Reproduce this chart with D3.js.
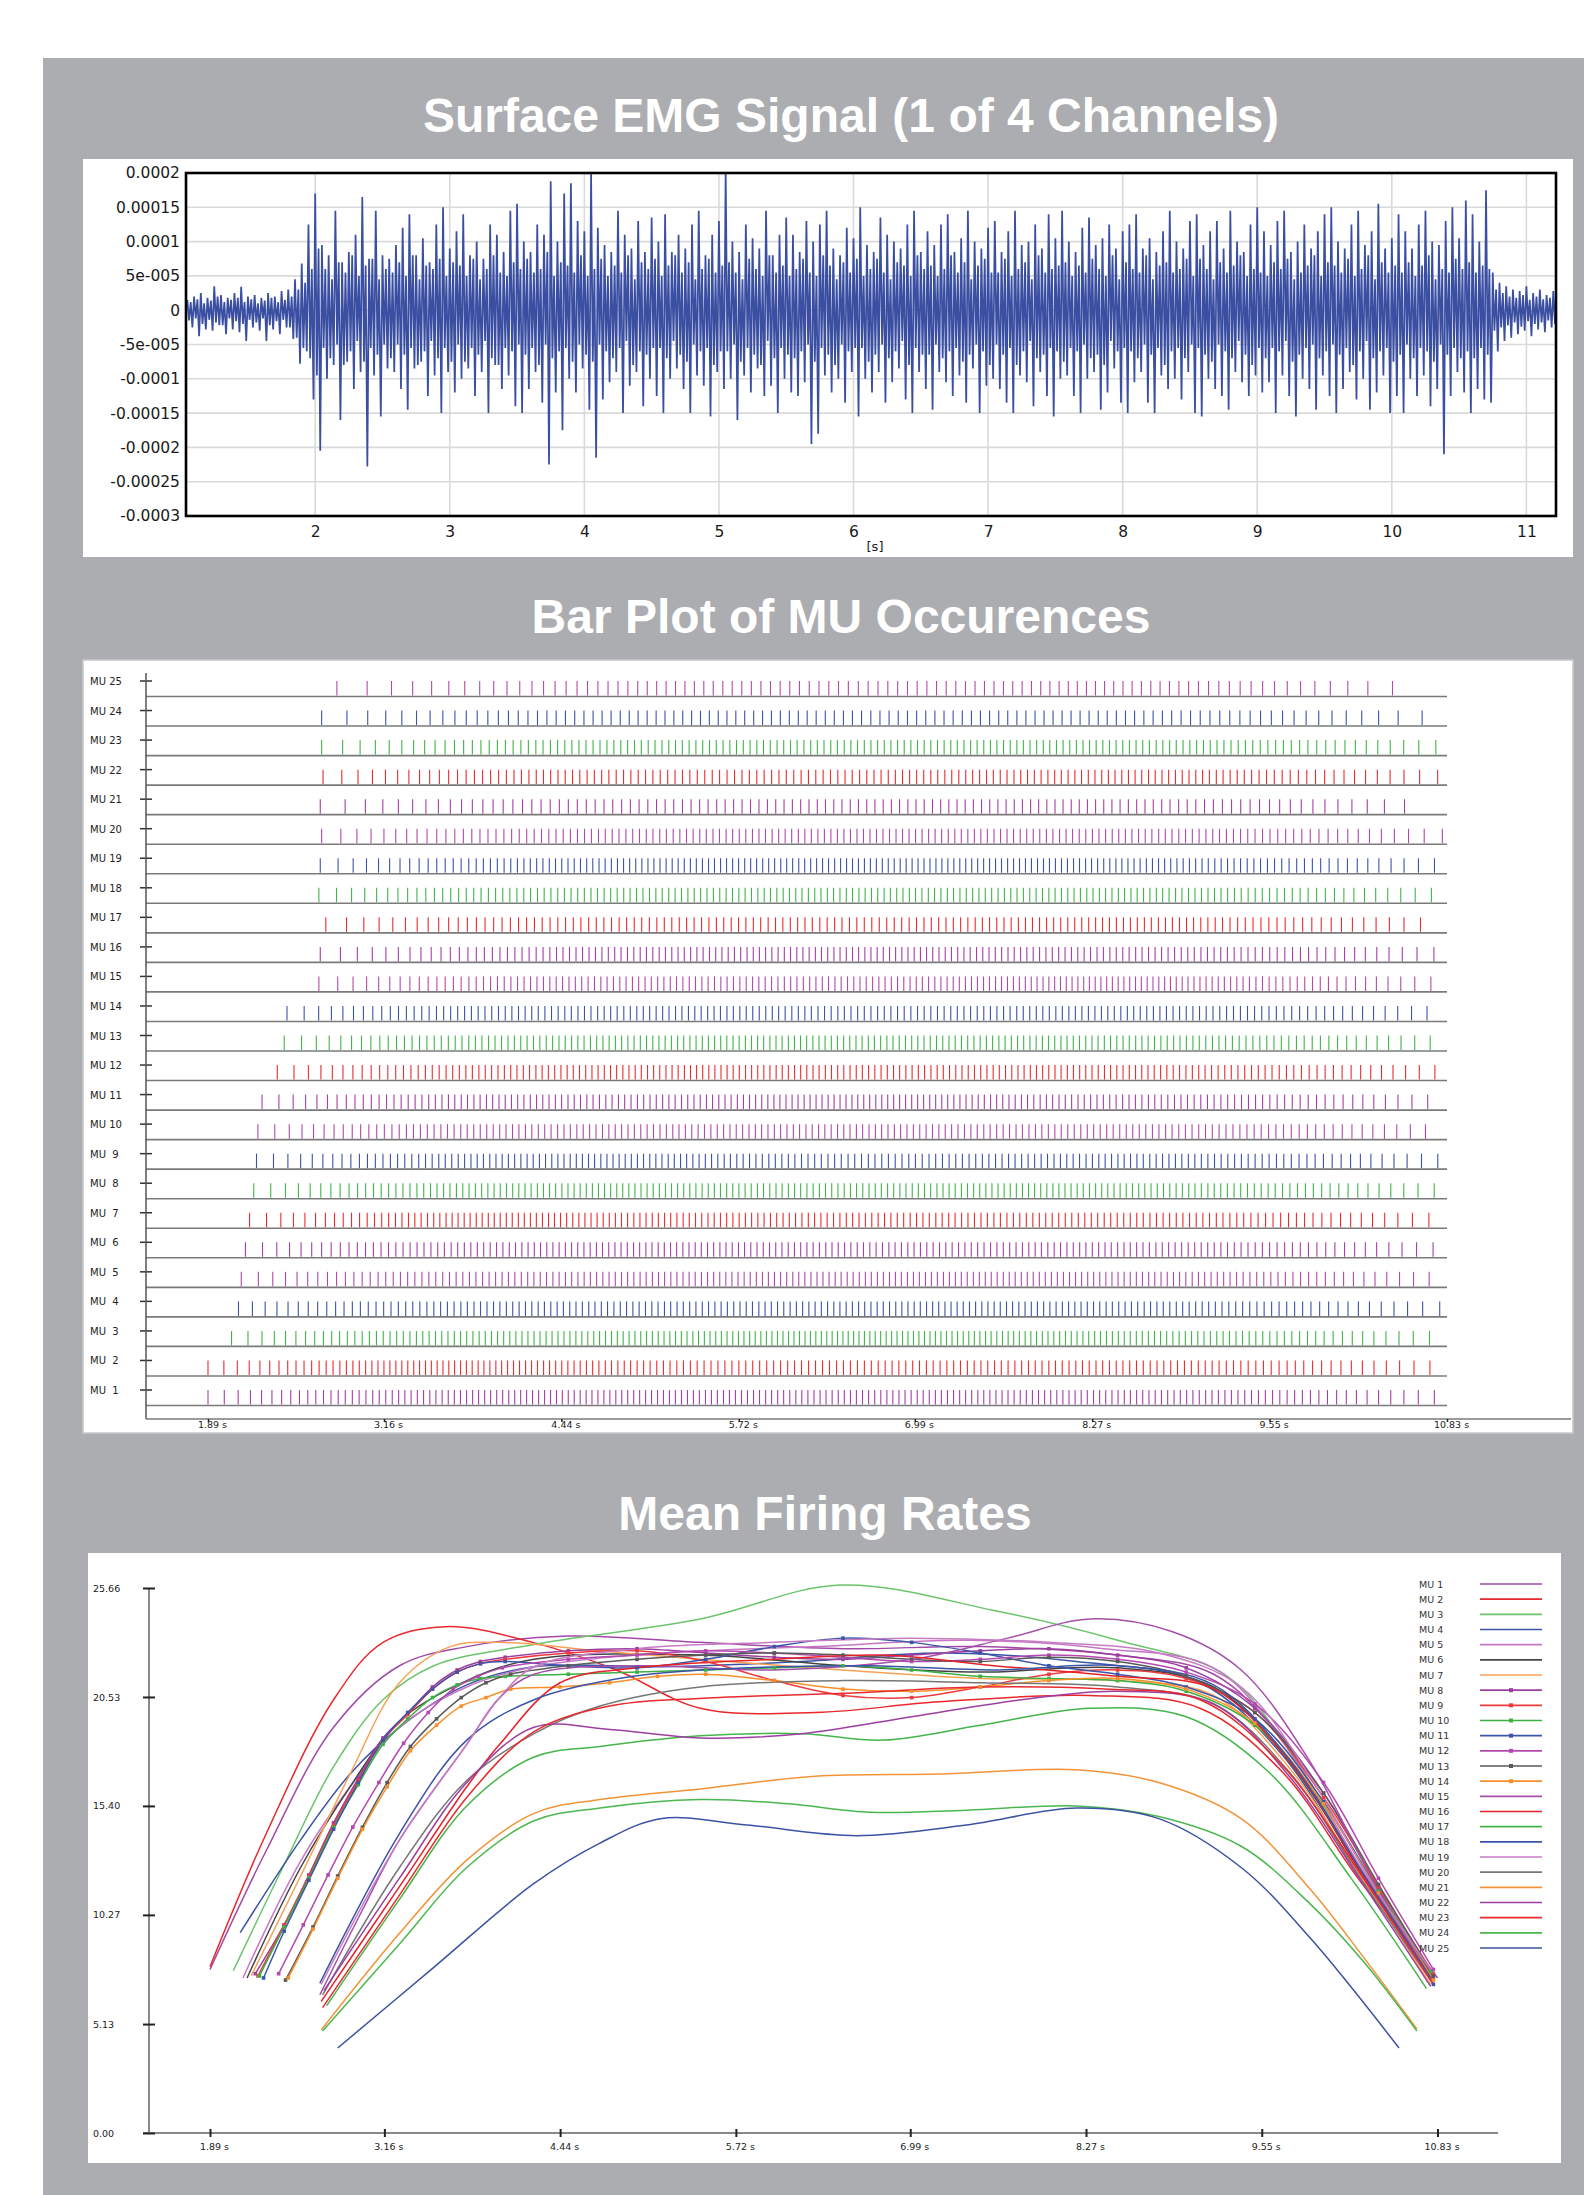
<!DOCTYPE html>
<html><head><meta charset="utf-8">
<script src="https://cdn.jsdelivr.net/npm/d3@7"></script>
<style>
body{margin:0;background:#fff;}
svg{display:block;}
text{font-family:"DejaVu Sans",sans-serif;}
.ttl{font-family:"Liberation Sans",Arial,sans-serif;font-weight:bold;font-size:48px;fill:#fff;}
</style></head><body>
<svg id="fig" width="1584" height="2195"></svg>
<script>
// ---------------- data ----------------
// Surface EMG, channel 1 (units of 1e-6 V), bins of 0.05 s starting at 1.05 s.
// Each bin holds its largest positive / negative peak (A) and a second, smaller pair (B).
const emgStart = 1.05, emgStep = 0.05;
const emgHighA = [
 15,20,25,18,35,22,18,25,34,20,22,18,25,20,28,30,
 45,68,125,170,
 95,80,145,70,85,110,165,75,145,80,
 75,95,120,140,80,105,70,125,150,90,
 115,140,80,100,75,125,110,85,145,155,
 100,85,125,110,188,100,170,185,130,115,
 200,120,95,85,145,110,90,130,85,135,
 100,140,85,110,90,125,145,80,110,130,
 205,100,85,125,105,90,145,80,110,135,
 110,85,130,100,125,145,90,80,120,105,
 150,95,85,135,110,100,90,125,145,85,
 115,95,125,140,85,105,145,100,90,120,
 130,85,115,145,95,100,125,90,140,105,
 145,100,85,120,135,95,105,125,90,115,
 125,140,90,105,85,115,145,100,90,130,
 140,95,115,130,90,145,100,85,125,150,
 115,95,130,145,85,100,125,90,115,140,
 150,100,90,125,145,95,115,155,90,105,
 140,115,90,125,145,100,95,130,150,105,
 160,140,100,175,
 55,40,35,30,28,35,25,30,22,28];
const emgLowA = [
 -25,-38,-28,-30,-22,-35,-28,-32,-45,-25,-30,-45,-28,-35,-25,-42,
 -78,-60,-130,-205,
 -100,-80,-160,-75,-115,-90,-228,-95,-155,-85,
 -90,-115,-145,-85,-75,-125,-95,-150,-90,-120,
 -100,-85,-125,-90,-150,-80,-115,-95,-140,-150,
 -115,-90,-135,-225,-120,-175,-100,-120,-85,-145,
 -215,-130,-105,-90,-150,-110,-90,-140,-100,-125,
 -150,-100,-85,-115,-150,-95,-110,-155,-90,-115,
 -100,-160,-95,-120,-85,-125,-110,-150,-100,-120,
 -125,-105,-195,-180,-95,-120,-100,-135,-90,-155,
 -100,-120,-90,-135,-105,-85,-130,-150,-90,-115,
 -145,-90,-105,-125,-95,-135,-85,-150,-110,-100,
 -115,-135,-150,-95,-105,-140,-90,-125,-155,-100,
 -95,-125,-150,-100,-90,-145,-120,-85,-135,-150,
 -105,-90,-135,-150,-95,-115,-100,-130,-90,-150,
 -155,-100,-115,-125,-145,-90,-105,-125,-95,-120,
 -105,-150,-95,-125,-155,-100,-115,-145,-95,-125,
 -150,-115,-90,-130,-100,-145,-120,-95,-150,-125,
 -150,-100,-125,-95,-140,-115,-210,-125,-90,-120,
 -150,-115,-130,-135,
 -60,-45,-40,-35,-30,-38,-28,-32,-25,-30];
const emgHighB = [
 12,16,10,14,20,12,15,18,12,16,10,14,18,12,15,20,
 30,40,60,90,
 60,45,70,55,80,50,65,75,45,60,
 55,70,50,80,45,65,60,75,50,70,
 65,50,75,45,60,80,55,50,70,60,
 75,55,60,85,50,70,65,55,80,50,
 60,75,50,65,55,80,45,70,60,75,
 50,65,80,55,70,45,60,75,55,65,
 70,55,45,75,60,50,80,55,65,50,
 60,75,55,50,80,65,45,70,55,75,
 50,60,75,55,45,70,65,50,80,60,
 65,50,60,80,55,70,45,65,75,55,
 55,75,50,60,70,45,80,55,60,65,
 70,50,65,55,75,60,50,80,45,70,
 60,55,80,45,65,70,55,60,75,50,
 75,60,45,70,55,65,80,50,60,55,
 50,70,60,75,45,55,65,80,50,70,
 65,55,75,50,60,80,45,70,55,65,
 55,70,50,65,80,45,60,55,75,60,
 70,55,65,60,
 30,25,20,18,22,15,20,16,18,14];
const emgLowB = [
 -15,-12,-20,-14,-18,-22,-12,-16,-20,-14,-18,-12,-22,-16,-14,-25,
 -40,-55,-70,-95,
 -55,-70,-50,-80,-60,-45,-75,-55,-65,-50,
 -70,-50,-65,-55,-80,-60,-45,-70,-55,-75,
 -50,-75,-55,-65,-45,-70,-80,-55,-60,-50,
 -65,-55,-80,-50,-70,-60,-55,-75,-50,-65,
 -75,-50,-60,-70,-55,-45,-80,-60,-65,-55,
 -55,-70,-45,-65,-75,-50,-60,-55,-80,-60,
 -60,-50,-75,-55,-65,-80,-45,-70,-55,-65,
 -70,-60,-50,-75,-55,-65,-80,-50,-60,-55,
 -55,-75,-65,-50,-70,-60,-45,-80,-55,-65,
 -65,-50,-70,-60,-55,-75,-65,-50,-60,-80,
 -50,-65,-55,-80,-60,-45,-70,-65,-55,-60,
 -75,-55,-60,-50,-70,-65,-80,-45,-60,-55,
 -60,-70,-50,-65,-55,-80,-60,-55,-70,-50,
 -55,-65,-75,-50,-60,-70,-45,-65,-80,-55,
 -70,-55,-60,-45,-75,-65,-55,-50,-70,-60,
 -50,-65,-55,-80,-60,-45,-70,-60,-55,-75,
 -65,-50,-70,-55,-60,-75,-50,-65,-55,-70,
 -60,-70,-55,-65,
 -30,-25,-22,-18,-24,-16,-20,-18,-15,-20];
const emgYTicks = [200,150,100,50,0,-50,-100,-150,-200,-250,-300];
const emgYLabels = ["0.0002","0.00015","0.0001","5e-005","0","-5e-005","-0.0001","-0.00015","-0.0002","-0.00025","-0.0003"];
const emgXTicks = [2,3,4,5,6,7,8,9,10,11];

// Motor units
const muNumbers = [1,2,3,4,5,6,7,8,9,10,11,12,13,14,15,16,17,18,19,20,21,22,23,24,25];
const timeTicks = [1.89,3.16,4.44,5.72,6.99,8.27,9.55,10.83];
const rateTicks = [0,5.13,10.27,15.40,20.53,25.66];
const rateTickLabels = ["0.00","5.13","10.27","15.40","20.53","25.66"];

// Mean firing rate of each unit: [time s, rate pps]
const mu1 = [[1.89,7.7],[2.30,13.3],[2.79,19.1],[3.27,22.0],[3.76,22.9],[4.49,23.4],[5.46,23.1],[6.5,22.8],[7.5,22.9],[8.5,22.5],[9.2,21.6],[9.7,18.5],[10.2,13.0],[10.83,7.3]];
const mu2 = [[1.89,7.83],[2.30,14.1],[2.79,20.4],[3.15,23.1],[3.61,23.84],[4.24,23.1],[4.85,21.8],[5.46,20.0],[6.3,19.8],[7.2,20.3],[8.3,20.6],[9.1,20.0],[9.7,17.0],[10.25,12.0],[10.8,7.5]];
const mu3 = [[2.06,7.64],[2.42,12.5],[2.79,17.25],[3.15,20.4],[3.52,22.0],[4.25,23.0],[5.46,24.2],[6.48,25.8],[7.6,24.6],[8.5,23.2],[9.3,21.5],[9.8,17.5],[10.3,12.0],[10.8,7.0]];
const mu4 = [[2.11,9.43],[2.55,13.8],[2.91,16.9],[3.27,19.1],[3.76,21.1],[4.25,21.95],[5.2,21.95],[6.2,22.2],[7.2,22.6],[8.2,22.2],[9.1,21.2],[9.7,17.8],[10.25,12.3],[10.78,7.6]];
const mu5 = [[2.13,7.3],[2.55,12.8],[2.91,16.3],[3.27,19.1],[3.76,21.0],[4.25,21.95],[5.2,22.6],[6.3,22.9],[7.4,23.2],[8.4,22.8],[9.2,21.9],[9.75,18.0],[10.3,12.2],[10.8,7.4]];
const mu6 = [[2.16,7.3],[2.55,12.5],[2.91,16.3],[3.27,19.4],[3.76,21.3],[4.25,22.3],[5.46,22.5],[6.5,22.0],[7.5,21.7],[8.5,21.9],[9.2,21.0],[9.75,17.5],[10.3,12.0],[10.8,7.2]];
const mu7 = [[2.19,7.4],[2.55,12.1],[2.91,16.9],[3.27,21.2],[3.64,22.9],[4.0,23.1],[4.73,22.7],[5.46,22.3],[6.5,21.8],[7.5,21.4],[8.5,21.3],[9.2,20.6],[9.75,17.2],[10.3,11.8],[10.78,7.0]];
const mu8 = [[2.22,7.5],[2.43,9.8],[2.61,12.15],[2.79,14.6],[2.97,16.7],[3.15,18.6],[3.33,19.75],[3.51,21.0],[3.69,21.8],[3.86,22.2],[4.04,22.4],[4.5,22.7],[5.0,22.8],[5.5,22.6],[6.0,22.4],[6.5,22.3],[7.0,22.5],[7.5,22.7],[8.0,22.8],[8.5,22.5],[9.0,21.9],[9.5,20.0],[10.0,16.0],[10.4,11.5],[10.8,7.3]];
const mu9 = [[2.24,7.4],[2.43,9.8],[2.61,12.1],[2.79,14.5],[2.97,16.6],[3.15,18.5],[3.33,19.7],[3.51,20.9],[3.69,21.7],[3.86,22.1],[4.04,22.3],[4.5,22.6],[5.0,22.7],[5.5,22.2],[6.0,21.3],[6.5,20.6],[7.0,20.5],[7.5,21.0],[8.0,21.6],[8.5,21.8],[9.0,21.4],[9.5,19.8],[10.0,15.8],[10.4,11.6],[10.8,7.5]];
const mu10 = [[2.25,7.4],[2.43,9.7],[2.61,12.0],[2.79,14.4],[2.97,16.4],[3.15,18.3],[3.33,19.5],[3.51,20.5],[3.69,21.1],[3.86,21.4],[4.04,21.5],[4.5,21.6],[5.0,21.7],[5.5,21.8],[6.0,21.9],[6.5,22.0],[7.0,21.8],[7.5,21.5],[8.0,21.4],[8.5,21.3],[9.0,20.8],[9.5,19.2],[10.0,15.5],[10.4,11.4],[10.78,7.6]];
const mu11 = [[2.28,7.3],[2.43,9.5],[2.61,11.9],[2.79,14.3],[2.97,16.5],[3.15,18.5],[3.33,19.8],[3.51,20.9],[3.69,21.7],[3.86,22.1],[4.04,22.2],[4.5,22.0],[5.0,21.9],[5.5,22.3],[6.0,22.9],[6.5,23.3],[7.0,23.1],[7.5,22.6],[8.0,22.0],[8.5,21.6],[9.0,21.0],[9.5,19.5],[10.0,15.6],[10.4,11.3],[10.8,7.0]];
const mu12 = [[2.39,7.5],[2.57,9.8],[2.75,12.15],[2.93,14.4],[3.12,16.5],[3.30,18.35],[3.48,19.8],[3.66,20.9],[3.84,21.5],[4.02,21.9],[4.5,22.3],[5.0,22.5],[5.5,22.7],[6.0,22.6],[6.5,22.4],[7.0,22.2],[7.5,22.3],[8.0,22.5],[8.5,22.3],[9.0,21.7],[9.5,20.2],[10.0,16.5],[10.4,12.0],[10.8,7.7]];
const mu13 = [[2.44,7.2],[2.64,9.7],[2.82,12.1],[3.0,14.4],[3.18,16.5],[3.35,18.2],[3.54,19.5],[3.72,20.5],[3.9,21.2],[4.08,21.6],[4.5,22.0],[5.0,22.3],[5.5,22.5],[6.0,22.6],[6.5,22.5],[7.0,22.3],[7.5,22.2],[8.0,22.4],[8.5,22.2],[9.0,21.5],[9.5,19.8],[10.0,16.0],[10.4,11.7],[10.8,7.4]];
const mu14 = [[2.46,7.3],[2.64,9.6],[2.82,12.0],[3.0,14.3],[3.18,16.3],[3.35,18.0],[3.54,19.2],[3.72,20.1],[3.9,20.5],[4.08,20.9],[4.44,21.0],[4.8,21.2],[5.15,21.5],[5.5,21.6],[6.0,21.3],[6.5,20.9],[7.0,20.8],[7.5,21.0],[8.0,21.3],[8.5,21.4],[9.0,20.9],[9.5,19.3],[10.0,15.5],[10.4,11.3],[10.8,7.2]];
const mu15 = [[2.69,6.5],[3.0,10.5],[3.27,13.8],[3.76,18.3],[4.0,20.5],[4.25,21.6],[5.0,22.0],[6.0,21.8],[7.0,22.3],[7.7,23.3],[8.3,24.2],[8.9,23.6],[9.4,21.8],[9.9,17.5],[10.35,12.0],[10.78,7.3]];
const mu16 = [[2.70,6.2],[3.27,11.6],[3.76,16.3],[4.0,18.3],[4.44,21.2],[5.0,21.9],[6.0,22.3],[6.8,22.5],[7.6,22.0],[8.5,21.5],[9.2,20.9],[9.75,17.5],[10.3,12.0],[10.8,7.0]];
const mu17 = [[2.74,6.0],[3.27,11.0],[3.76,15.4],[4.25,17.7],[4.73,18.2],[5.46,18.7],[6.2,18.8],[6.8,18.5],[7.5,19.2],[8.3,20.0],[9.0,19.6],[9.6,17.0],[10.2,12.0],[10.75,6.8]];
const mu18 = [[2.69,7.05],[3.27,14.1],[3.76,18.5],[4.25,20.4],[4.97,21.5],[5.8,21.9],[6.7,22.0],[7.6,21.8],[8.5,22.0],[9.2,21.1],[9.75,17.6],[10.3,12.1],[10.8,7.1]];
const mu19 = [[2.70,7.0],[3.27,13.8],[3.76,18.3],[4.0,20.5],[4.25,21.95],[5.0,22.8],[6.0,23.1],[7.0,23.3],[8.0,23.1],[8.8,22.6],[9.4,21.0],[9.9,16.8],[10.35,11.8],[10.8,7.5]];
const mu20 = [[2.71,6.5],[3.27,12.5],[3.76,16.6],[4.25,18.8],[4.73,20.1],[5.46,21.0],[6.5,21.3],[7.5,21.2],[8.5,21.0],[9.2,20.2],[9.75,17.0],[10.3,11.7],[10.8,7.0]];
const mu21 = [[2.70,4.85],[3.27,9.4],[3.76,12.85],[4.25,15.05],[4.73,15.7],[5.46,16.2],[6.3,16.8],[7.2,16.9],[8.2,17.1],[8.8,16.5],[9.4,14.8],[9.9,11.5],[10.3,8.2],[10.68,4.9]];
const mu22 = [[2.72,6.7],[3.27,12.0],[3.76,16.5],[4.25,19.1],[4.8,19.0],[5.46,18.6],[6.2,18.8],[7.0,19.6],[7.8,20.4],[8.5,20.8],[9.2,20.2],[9.75,16.8],[10.3,11.6],[10.78,6.9]];
const mu23 = [[2.71,5.9],[3.27,11.2],[3.76,15.8],[4.25,18.9],[4.8,20.1],[5.6,20.5],[6.5,20.7],[7.5,21.0],[8.4,20.9],[9.1,20.4],[9.7,17.3],[10.3,11.9],[10.8,7.0]];
const mu24 = [[2.71,4.8],[3.27,8.9],[3.76,12.5],[4.25,14.7],[4.73,15.3],[5.46,15.7],[6.1,15.5],[6.7,15.1],[7.4,15.2],[8.2,15.4],[8.8,14.9],[9.4,13.5],[9.9,10.8],[10.3,8.0],[10.68,4.8]];
const mu25 = [[2.82,4.0],[3.52,7.8],[4.25,11.75],[4.73,13.65],[5.17,14.8],[5.8,14.5],[6.6,14.0],[7.4,14.5],[8.2,15.3],[8.8,14.8],[9.4,12.5],[9.9,9.2],[10.55,4.0]];
const muRates = [mu1,mu2,mu3,mu4,mu5,mu6,mu7,mu8,mu9,mu10,mu11,mu12,mu13,mu14,mu15,mu16,mu17,mu18,mu19,mu20,mu21,mu22,mu23,mu24,mu25];

// styling
const rateColors = ["#a24aa8","#e8282c","#6cc46c","#3c54a4","#c678c6","#444444","#f7a257",
                    "#9c3f9e","#ec3a3e","#3cb043","#3c55a8","#b548b0","#5a5a5a","#f7902a",
                    "#a450a8","#e52228","#45b54a","#3c54a6","#c67cc4","#777777","#f29338",
                    "#9d3fa0","#e82a2e","#4cb74f","#3a52a2"];
const markerUnits = [8,9,10,11,12,13,14];
const rasterColors = ["#a63fa6","#ec2b2f","#40b44a","#3d53a8","#b04aaa"];

// ---------------- drawing ----------------
const svg = d3.select("#fig");
svg.append("rect").attr("x",43).attr("y",58).attr("width",1584-43).attr("height",2195-58).attr("fill","#acadb0");

svg.append("text").attr("class","ttl").attr("x",851).attr("y",132).attr("text-anchor","middle").text("Surface EMG Signal (1 of 4 Channels)");
svg.append("text").attr("class","ttl").attr("x",841).attr("y",633).attr("text-anchor","middle").text("Bar Plot of MU Occurences");
svg.append("text").attr("class","ttl").attr("x",825).attr("y",1530).attr("text-anchor","middle").text("Mean Firing Rates");

// ===== Panel 1: EMG =====
svg.append("rect").attr("x",83).attr("y",159).attr("width",1490).attr("height",398).attr("fill","#fff");
const xE = d3.scaleLinear().domain([1.04,11.22]).range([186,1556]);
const yE = d3.scaleLinear().domain([-300,200]).range([516,173]);
const gE = svg.append("g");
svg.append("clipPath").attr("id","emgClip").append("rect")
  .attr("x",186).attr("y",173).attr("width",1556-186).attr("height",516-173);
gE.selectAll("line.hg").data(emgYTicks).join("line")
  .attr("x1",xE.range()[0]).attr("x2",xE.range()[1])
  .attr("y1",d=>yE(d)).attr("y2",d=>yE(d))
  .attr("stroke","#dadada").attr("stroke-width",1.6);
gE.selectAll("line.vg").data(emgXTicks).join("line")
  .attr("x1",d=>xE(d)).attr("x2",d=>xE(d))
  .attr("y1",yE.range()[1]).attr("y2",yE.range()[0])
  .attr("stroke","#dadada").attr("stroke-width",1.6);

const emgPts = [];
emgHighA.forEach((h,i)=>{
  const t = emgStart + i*emgStep;
  emgPts.push([t, h]);
  emgPts.push([t+emgStep*0.25, emgLowB[i]]);
  emgPts.push([t+emgStep*0.5, emgHighB[i]]);
  emgPts.push([t+emgStep*0.75, emgLowA[i]]);
});
gE.append("g").attr("clip-path","url(#emgClip)")
  .append("path").datum(emgPts)
  .attr("d", d3.line().x(d=>xE(d[0])).y(d=>yE(d[1])))
  .attr("fill","none").attr("stroke","#3a4fa2").attr("stroke-width",1.75);

gE.append("rect").attr("x",186).attr("y",173).attr("width",1556-186).attr("height",516-173)
  .attr("fill","none").attr("stroke","#000").attr("stroke-width",2.6);

const axEY = gE.append("g").attr("transform","translate(186,0)")
  .call(d3.axisLeft(yE).tickValues(emgYTicks).tickFormat((d,i)=>emgYLabels[i]).tickSize(0).tickPadding(6));
axEY.select(".domain").remove();
axEY.selectAll("text").attr("font-size",15.5).attr("font-family","DejaVu Sans").attr("fill","#1a1a1a");
const axEX = gE.append("g").attr("transform","translate(0,516)")
  .call(d3.axisBottom(xE).tickValues(emgXTicks).tickFormat(d3.format("d")).tickSize(0).tickPadding(10));
axEX.select(".domain").remove();
axEX.selectAll("text").attr("font-size",15.5).attr("font-family","DejaVu Sans").attr("fill","#1a1a1a");
gE.append("text").attr("x",875).attr("y",551).attr("text-anchor","middle").attr("font-size",13).attr("fill","#1a1a1a").text("[s]");

// ===== Panel 2: raster of MU occurrences =====
svg.append("rect").attr("x",83).attr("y",660).attr("width",1490).attr("height",773).attr("fill","#fff")
  .attr("stroke","#c9c9c9").attr("stroke-width",1.5);
const xR = d3.scaleLinear().domain([1.89,10.83]).range([208,1447]);
const yR = d3.scaleLinear().domain([1,25]).range([1390,681]);
const gR = svg.append("g");

// spike trains follow each unit's firing-rate curve
function firingTimes(rate){
  const times = [rate[0][0]];
  let acc = 0;
  for(let i=1;i<rate.length;i++){
    const [ta,ra] = rate[i-1], [tb,rb] = rate[i];
    const n = Math.ceil((tb-ta)/0.001), dt = (tb-ta)/n;
    for(let k=0;k<n;k++){
      const t = ta + (k+0.5)*dt;
      acc += (ra + (rb-ra)*(t-ta)/(tb-ta))*dt;
      if(acc>=1){ acc -= 1; times.push(t); }
    }
  }
  return times;
}

muNumbers.forEach((mu,i)=>{
  const y = yR(mu);
  const col = rasterColors[i%5];
  const row = gR.append("g");
  row.append("line").attr("x1",146).attr("x2",xR(10.83)).attr("y1",y+15.5).attr("y2",y+15.5)
    .attr("stroke","#7a7a7a").attr("stroke-width",1.6);
  row.selectAll("line.sp").data(firingTimes(muRates[i])).join("line")
    .attr("x1",d=>xR(d)).attr("x2",d=>xR(d)).attr("y1",y).attr("y2",y+14.5)
    .attr("stroke",col).attr("stroke-width",1.1);
  row.append("line").attr("x1",140).attr("x2",152).attr("y1",y).attr("y2",y)
    .attr("stroke","#333").attr("stroke-width",1.5);
  row.append("text").attr("x",90).attr("y",y+4).attr("font-size",10).attr("fill","#222")
    .attr("xml:space","preserve").style("white-space","pre")
    .text("MU " + String(mu).padStart(2," "));
});
gR.append("line").attr("x1",146).attr("x2",146).attr("y1",673).attr("y2",1419).attr("stroke","#555").attr("stroke-width",1.5);
gR.append("line").attr("x1",146).attr("x2",1571).attr("y1",1419).attr("y2",1419).attr("stroke","#7a7a7a").attr("stroke-width",1.6);
const axRX = gR.append("g").attr("transform","translate(0,1419)")
  .call(d3.axisBottom(xR).tickValues(timeTicks).tickFormat(d=>d.toFixed(2)+" s").tickSize(3).tickPadding(0));
axRX.select(".domain").remove();
axRX.selectAll("line").attr("stroke","#222").attr("stroke-width",1.5);
axRX.selectAll("text").attr("font-size",9.5).attr("fill","#222").attr("dx",4).attr("dy","0.62em");

// ===== Panel 3: mean firing rates =====
svg.append("rect").attr("x",88).attr("y",1553).attr("width",1473).attr("height",610).attr("fill","#fff");
const xF = d3.scaleLinear().domain([1.89,10.83]).range([210,1437.5]);
const yF = d3.scaleLinear().domain([0,25.66]).range([2133,1588]);
const gF = svg.append("g");
gF.append("line").attr("x1",149).attr("x2",149).attr("y1",1588).attr("y2",2133).attr("stroke","#888").attr("stroke-width",2);
gF.append("line").attr("x1",143).attr("x2",1498).attr("y1",2133).attr("y2",2133).attr("stroke","#888").attr("stroke-width",2);
const axFY = gF.append("g").attr("transform","translate(155,0)")
  .call(d3.axisLeft(yF).tickValues(rateTicks).tickFormat((d,i)=>rateTickLabels[i]).tickSize(12).tickPadding(0));
axFY.select(".domain").remove();
axFY.selectAll("line").attr("stroke","#222").attr("stroke-width",2);
axFY.selectAll("text").attr("x",-62).attr("text-anchor","start").attr("font-size",9.5).attr("fill","#222");
const axFX = gF.append("g").attr("transform","translate(0,2129)")
  .call(d3.axisBottom(xF).tickValues(timeTicks).tickFormat(d=>d.toFixed(2)+" s").tickSize(8).tickPadding(6));
axFX.select(".domain").remove();
axFX.selectAll("line").attr("stroke","#222").attr("stroke-width",2);
axFX.selectAll("text").attr("font-size",9.5).attr("fill","#222").attr("dx",4);

const rateLine = d3.line().x(d=>xF(d[0])).y(d=>yF(d[1])).curve(d3.curveCatmullRom.alpha(0.5));
muNumbers.forEach((mu,i)=>{
  gF.append("path").datum(muRates[i]).attr("d",rateLine)
    .attr("fill","none").attr("stroke",rateColors[i]).attr("stroke-width",1.5);
});
muNumbers.forEach((mu,i)=>{
  if(!markerUnits.includes(mu)) return;
  gF.selectAll(null).data(muRates[i]).join("rect")
    .attr("x",d=>xF(d[0])-1.8).attr("y",d=>yF(d[1])-1.8).attr("width",3.6).attr("height",3.6)
    .attr("fill",rateColors[i]);
});

// legend
const yL = d3.scaleLinear().domain([1,25]).range([1584,1948]);
muNumbers.forEach((mu,i)=>{
  const y = yL(mu);
  gF.append("text").attr("x",1419).attr("y",y+3.5).attr("font-size",9.5).attr("fill","#333").text("MU " + mu);
  gF.append("line").attr("x1",1480).attr("x2",1542).attr("y1",y).attr("y2",y)
    .attr("stroke",rateColors[i]).attr("stroke-width",1.6);
  if(markerUnits.includes(mu)){
    gF.append("rect").attr("x",1509).attr("y",y-2).attr("width",4).attr("height",4).attr("fill",rateColors[i]);
  }
});
</script>
</body></html>
